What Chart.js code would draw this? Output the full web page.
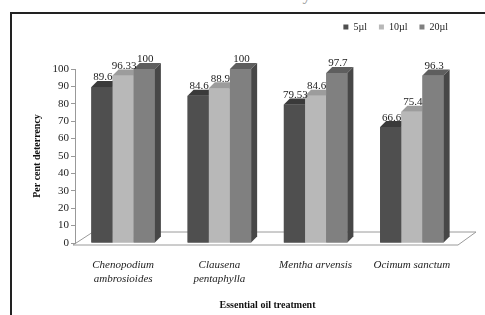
<!DOCTYPE html>
<html>
<head>
<meta charset="utf-8">
<script src="https://cdn.jsdelivr.net/npm/chart.js@4"></script>
<style>
  html, body { margin: 0; padding: 0; background: #fff; }
  body { width: 485px; height: 315px; position: relative; overflow: hidden; }
  #topText { position: absolute; left: 40px; top: -15px; font: 17px 'Liberation Serif', serif; color: #999; white-space: nowrap; }
  #frame { position: absolute; left: 10px; top: 12px; width: 500px; height: 320px; border-left: 2px solid #222; border-top: 2px solid #222; }
  #chart { position: absolute; left: 0; top: 0; }
</style>
</head>
<body>
<div id="topText">caused deterrence to the ones caused by C</div>
<div id="frame"></div>
<canvas id="chart" width="485" height="315"></canvas>
<script>
document.addEventListener('DOMContentLoaded', () => {
    const categories = [['Chenopodium', 'ambrosioides'], ['Clausena', 'pentaphylla'], 'Mentha arvensis', 'Ocimum sanctum'];
    const doseLabels = ['5µl', '10µl', '20µl'];
    const values5 = [89.6, 84.6, 79.53, 66.6];
    const values10 = [96.33, 88.9, 84.6, 75.4];
    const values20 = [100, 100, 97.7, 96.3];

    const serif = "'Liberation Serif', 'Times New Roman', serif";
    // front, top, side shades per dose
    const shades = [
        ['#4f4f4f', '#3a3a3a', '#2e2e2e'],
        ['#b8b8b8', '#9c9c9c', '#8a8a8a'],
        ['#808080', '#5e5e5e', '#474747']
    ];
    const depth = 6;

    // leave room between the legend and the plot
    const legendGap = {
        id: 'legendGap',
        afterInit(chart) {
            const legend = chart.legend;
            if (legend && !legend._gapPatched) {
                const origFit = legend.fit;
                legend.fit = function () {
                    origFit.call(this);
                    this.height += 27;
                };
                legend._gapPatched = true;
            }
        }
    };

    // floor under the bars
    const floorPlugin = {
        id: 'floor',
        beforeDatasetsDraw(chart) {
            const { ctx, chartArea } = chart;
            const base = chart.scales.y.getPixelForValue(0);
            ctx.save();
            ctx.strokeStyle = '#9a9a9a';
            ctx.lineWidth = 1;
            ctx.beginPath();
            ctx.moveTo(chartArea.left - 2, base + 2);
            ctx.lineTo(chartArea.left + 18, base - 11);
            ctx.lineTo(chartArea.right + 16, base - 11);
            ctx.lineTo(chartArea.right - 2, base + 2);
            ctx.closePath();
            ctx.stroke();
            ctx.restore();
        }
    };

    // redraw the bars with a top face and side face, then the values
    const bar3dPlugin = {
        id: 'bar3d',
        afterDatasetsDraw(chart) {
            const { ctx } = chart;
            ctx.save();
            for (let i = 0; i < categories.length; i++) {
                chart.data.datasets.forEach((ds, d) => {
                    const el = chart.getDatasetMeta(d).data[i];
                    const { x, y, base, width } = el.getProps(['x', 'y', 'base', 'width'], true);
                    const left = x - width / 2;
                    const right = x + width / 2;
                    ctx.fillStyle = shades[d][0];
                    ctx.fillRect(left, y, width, base - y);
                    ctx.fillStyle = shades[d][1];
                    ctx.beginPath();
                    ctx.moveTo(left, y);
                    ctx.lineTo(left + depth, y - depth);
                    ctx.lineTo(right + depth, y - depth);
                    ctx.lineTo(right, y);
                    ctx.closePath();
                    ctx.fill();
                    ctx.fillStyle = shades[d][2];
                    ctx.beginPath();
                    ctx.moveTo(right, y);
                    ctx.lineTo(right + depth, y - depth);
                    ctx.lineTo(right + depth, base - depth);
                    ctx.lineTo(right, base);
                    ctx.closePath();
                    ctx.fill();
                });
            }
            ctx.font = '11px ' + serif;
            ctx.fillStyle = '#222';
            ctx.textAlign = 'center';
            ctx.textBaseline = 'bottom';
            chart.data.datasets.forEach((ds, d) => {
                chart.getDatasetMeta(d).data.forEach((el, i) => {
                    ctx.fillText(String(ds.data[i]), el.x + depth / 2 - 2, el.y - depth + 2);
                });
            });
            ctx.restore();
        }
    };

    new Chart(document.getElementById('chart').getContext('2d'), {
        type: 'bar',
        data: {
            labels: categories,
            datasets: [
                { label: doseLabels[0], data: values5, backgroundColor: shades[0][0] },
                { label: doseLabels[1], data: values10, backgroundColor: shades[1][0] },
                { label: doseLabels[2], data: values20, backgroundColor: shades[2][0] }
            ]
        },
        options: {
            responsive: false,
            animation: false,
            categoryPercentage: 0.66,
            barPercentage: 1,
            layout: { padding: { left: 27, right: 25, top: 10, bottom: 0 } },
            scales: {
                x: {
                    grid: { display: false },
                    border: { display: false },
                    ticks: {
                        padding: 8,
                        color: '#222',
                        font: { family: serif, size: 11, style: 'italic' }
                    },
                    title: {
                        display: true,
                        text: 'Essential oil treatment',
                        color: '#111',
                        font: { family: serif, size: 10, weight: 'bold' }
                    },
                    afterFit(scale) { scale.height = 72; }
                },
                y: {
                    min: 0,
                    max: 100,
                    ticks: {
                        stepSize: 10,
                        padding: 2,
                        color: '#222',
                        font: { family: serif, size: 11 }
                    },
                    grid: { drawOnChartArea: false, tickLength: 4, color: '#999' },
                    border: { color: '#999' },
                    title: {
                        display: true,
                        text: 'Per cent deterrency',
                        color: '#111',
                        font: { family: serif, size: 10, weight: 'bold' }
                    },
                    afterFit(scale) { scale.width = 48; }
                }
            },
            plugins: {
                legend: {
                    position: 'top',
                    align: 'end',
                    labels: {
                        boxWidth: 5,
                        boxHeight: 5,
                        padding: 12,
                        color: '#222',
                        font: { family: serif, size: 10 }
                    }
                },
                tooltip: { enabled: false }
            }
        },
        plugins: [legendGap, floorPlugin, bar3dPlugin]
    });
});
</script>
</body>
</html>
